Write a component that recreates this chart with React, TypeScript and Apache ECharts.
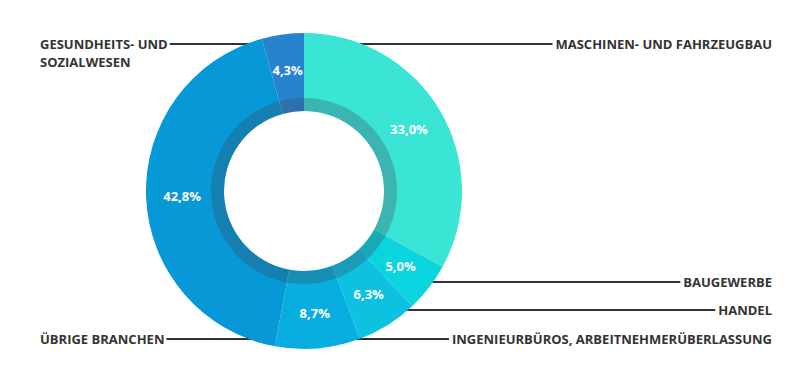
import React, { useEffect, useRef } from "react";
import * as echarts from "echarts";

const categories = [
  "MASCHINEN- UND FAHRZEUGBAU",
  "BAUGEWERBE",
  "HANDEL",
  "INGENIEURBÜROS, ARBEITNEHMERÜBERLASSUNG",
  "ÜBRIGE BRANCHEN",
  "GESUNDHEITS- UND\nSOZIALWESEN",
];
const values = [33.0, 5.0, 6.3, 8.7, 42.8, 4.3];
const colors = ["#3ae5d5", "#0ad4dd", "#0cc2e0", "#08aedf", "#0798d7", "#2883cf"];

// label layout (positions only)
const labelSide = ["right", "right", "right", "right", "left", "left"];
const labelLineY = [44, 282, 310, 339, 339, 44];

const CX = 304;
const CY = 191;
const R0 = 80;
const R1 = 158;
const LINE_R = 153;
const RIGHT_X = 772;
const LEFT_X = 40;
const LINE_H = 18;

export default function App() {
  const ref = useRef<HTMLDivElement>(null);
  useEffect(() => {
    if (!ref.current) return;
    const chart = echarts.init(ref.current, undefined, { renderer: "svg" });
    const data = categories.map((name, i) => ({
      name,
      value: values[i],
      itemStyle: { color: colors[i], borderWidth: 0 },
    }));
    chart.setOption({
      animation: false,
      series: [
        {
          type: "pie",
          center: [CX, CY],
          radius: [R0, R1],
          startAngle: 90,
          clockwise: true,
          silent: true,
          itemStyle: { borderWidth: 0 },
          data,
          label: {
            show: true,
            position: "inside",
            color: "#ffffff",
            fontFamily: "Open Sans",
            fontWeight: "bold",
            fontSize: 13,
            formatter: (p: any) => values[p.dataIndex].toFixed(1).replace(".", ",") + "%",
          },
          labelLine: { show: false },
        },
        {
          type: "pie",
          center: [CX, CY],
          radius: [R0, 93],
          silent: true,
          itemStyle: { borderWidth: 0 },
          data: [{ value: 1, itemStyle: { color: "rgba(60,70,90,0.3)" } }],
          label: { show: false },
          labelLine: { show: false },
        },
        {
          type: "pie",
          center: [CX, CY],
          radius: [R0, R1],
          startAngle: 90,
          clockwise: true,
          silent: true,
          itemStyle: { borderWidth: 0 },
          data: categories.map((name, i) => ({
            name,
            value: values[i],
            itemStyle: { color: "rgba(0,0,0,0)" },
          })),
          label: {
            show: true,
            position: "outside",
            color: "#333333",
            fontFamily: "Open Sans",
            fontWeight: "bold",
            fontSize: 13,
            lineHeight: LINE_H,
            overflow: "none",
            formatter: "{b}",
          },
          labelLine: {
            show: true,
            lineStyle: { color: "#333333", width: 2 },
          },
          labelLayout: (p: any) => {
            const i = p.dataIndex;
            const ly = labelLineY[i];
            const dy = ly - CY;
            const dx = Math.sqrt(Math.max(0, LINE_R * LINE_R - dy * dy));
            const w = p.labelRect.width;
            const nLines = categories[i].split("\n").length;
            const textY = ly + ((nLines - 1) * LINE_H) / 2;
            if (labelSide[i] === "right") {
              const sx = CX + dx;
              const ex = RIGHT_X - w - 3;
              return {
                x: RIGHT_X,
                y: textY,
                align: "right",
                verticalAlign: "middle",
                labelLinePoints: [
                  [sx, ly],
                  [(sx + ex) / 2, ly],
                  [ex, ly],
                ],
              };
            }
            const sx = CX - dx;
            const ex = LEFT_X + w + 2;
            return {
              x: LEFT_X,
              y: textY,
              align: "left",
              verticalAlign: "middle",
              labelLinePoints: [
                [sx, ly],
                [(sx + ex) / 2, ly],
                [ex, ly],
              ],
            };
          },
        },
      ],
    });
    return () => chart.dispose();
  }, []);
  return (
    <div
      ref={ref}
      style={{ position: "absolute", left: 0, top: 0, width: 806, height: 384 }}
    />
  );
}
